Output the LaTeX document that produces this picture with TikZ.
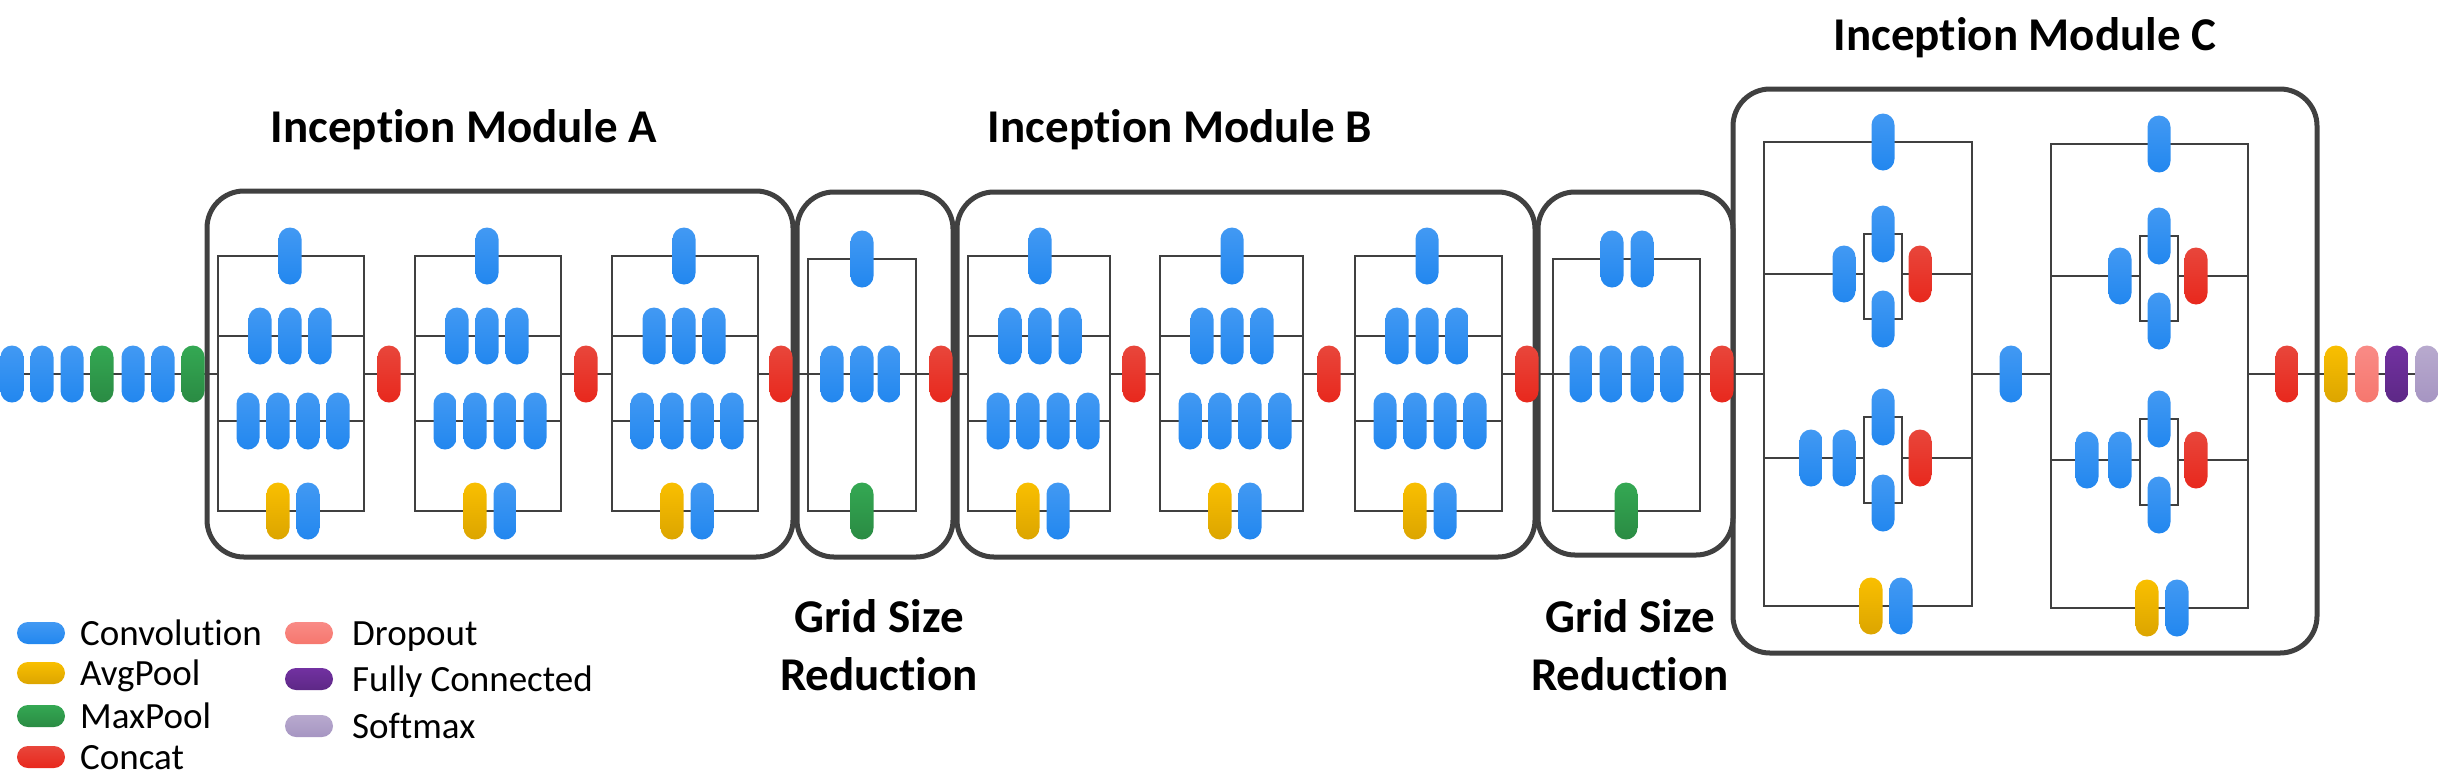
\documentclass[tikz,border=0pt]{standalone}
\usepackage{fontspec}
\setmainfont{Carlito}[Ligatures=NoCommon]
\pgfdeclarelayer{bg}
\pgfsetlayers{bg,main}
\definecolor{lineC}{HTML}{404040}
\definecolor{convT}{HTML}{4299F3}
\definecolor{convB}{HTML}{2287EF}
\definecolor{avgT}{HTML}{F9BF00}
\definecolor{avgB}{HTML}{DCA500}
\definecolor{maxT}{HTML}{34A853}
\definecolor{maxB}{HTML}{2A8B43}
\definecolor{catT}{HTML}{E8463B}
\definecolor{catB}{HTML}{E8281D}
\definecolor{dropT}{HTML}{F98B86}
\definecolor{dropB}{HTML}{F6776E}
\definecolor{fcT}{HTML}{7231A1}
\definecolor{fcB}{HTML}{5D2886}
\definecolor{smT}{HTML}{B8AACE}
\definecolor{smB}{HTML}{A695C2}
\tikzset{
  ln/.style={draw=lineC, line width=2.8pt},
  mbox/.style={draw=lineC, line width=5pt, rounded corners=37pt},
  pill/.style={rectangle, rounded corners=11.5pt, minimum width=23pt, minimum height=57pt, inner sep=0pt, outer sep=0pt},
  hpill/.style={rectangle, rounded corners=11pt, minimum width=48pt, minimum height=22pt, inner sep=0pt, outer sep=0pt},
  conv/.style={top color=convT, bottom color=convB},
  avgp/.style={top color=avgT, bottom color=avgB},
  maxp/.style={top color=maxT, bottom color=maxB},
  catp/.style={top color=catT, bottom color=catB},
  dropp/.style={top color=dropT, bottom color=dropB},
  fcl/.style={top color=fcT, bottom color=fcB},
  smax/.style={top color=smT, bottom color=smB},
  title/.style={font=\fontsize{47}{56}\selectfont\bfseries, anchor=base, inner sep=0pt},
  legtxt/.style={font=\fontsize{37}{44}\selectfont, anchor=base west, inner sep=0pt},
}
% Inception A/B block: #1 name, #2 left x, #3 width, #4 concat x
\newcommand\IncAB[4]{%
  \coordinate (#1NW) at (#2,256);
  \coordinate (#1SE) at ({#2+#3},511);
  \coordinate (#1W) at (#2,374);
  \coordinate (#1E) at ({#2+#3},374);
  \coordinate (#1bw) at (#2,336);
  \coordinate (#1be) at ({#2+#3},336);
  \coordinate (#1cw) at (#2,421);
  \coordinate (#1ce) at ({#2+#3},421);
  \begin{pgfonlayer}{bg}
    \draw[ln] (#1NW) rectangle (#1SE);
    \draw[ln] (#1bw) -- (#1be);
    \draw[ln] (#1cw) -- (#1ce);
  \end{pgfonlayer}
  \node[pill,conv] (#1a) at ({#2+72},256) {};
  \node[pill,conv] (#1b1) at ({#2+42},336) {};
  \node[pill,conv] (#1b2) at ({#2+72},336) {};
  \node[pill,conv] (#1b3) at ({#2+102},336) {};
  \node[pill,conv] (#1c1) at ({#2+30},421) {};
  \node[pill,conv] (#1c2) at ({#2+60},421) {};
  \node[pill,conv] (#1c3) at ({#2+90},421) {};
  \node[pill,conv] (#1c4) at ({#2+120},421) {};
  \node[pill,avgp] (#1d1) at ({#2+60},511) {};
  \node[pill,conv] (#1d2) at ({#2+90},511) {};
  \node[pill,catp] (#1cat) at (#4,374) {};
}
% Inception C block: #1 name, #2 left, #3 right, #4 dy, #5 mini x, #6 conv x, #7 first conv x, #8 avgpool x
\newcommand\IncC[8]{%
  \coordinate (#1NW) at (#2,{142+#4});
  \coordinate (#1SE) at (#3,{606+#4});
  \coordinate (#1W) at (#2,374);
  \coordinate (#1E) at (#3,374);
  \coordinate (#1bw) at (#2,{274+#4});
  \coordinate (#1be) at (#3,{274+#4});
  \coordinate (#1cw) at (#2,{458+#4});
  \coordinate (#1ce) at (#3,{458+#4});
  \coordinate (#1bmNW) at ({#5-19},{234+#4});
  \coordinate (#1bmSE) at ({#5+19},{319+#4});
  \coordinate (#1bmW) at ({#5-19},{274+#4});
  \coordinate (#1bmE) at ({#5+19},{274+#4});
  \coordinate (#1cmNW) at ({#5-19},{417+#4});
  \coordinate (#1cmSE) at ({#5+19},{503+#4});
  \coordinate (#1cmW) at ({#5-19},{458+#4});
  \coordinate (#1cmE) at ({#5+19},{458+#4});
  \begin{pgfonlayer}{bg}
    \draw[ln] (#1NW) rectangle (#1SE);
    \draw[ln] (#1bw) -- (#1bmW);
    \draw[ln] (#1bmE) -- (#1be);
    \draw[ln] (#1bmNW) rectangle (#1bmSE);
    \draw[ln] (#1cw) -- (#1cmW);
    \draw[ln] (#1cmE) -- (#1ce);
    \draw[ln] (#1cmNW) rectangle (#1cmSE);
  \end{pgfonlayer}
  \node[pill,conv] (#1a) at (#5,{142+#4}) {};
  \node[pill,conv] (#1b1) at (#6,{274+#4}) {};
  \node[pill,conv] (#1bu) at (#5,{234+#4}) {};
  \node[pill,conv] (#1bd) at (#5,{319+#4}) {};
  \node[pill,catp] (#1bcat) at ({#5+37},{274+#4}) {};
  \node[pill,conv] (#1c1) at (#7,{458+#4}) {};
  \node[pill,conv] (#1c2) at (#6,{458+#4}) {};
  \node[pill,conv] (#1cu) at (#5,{417+#4}) {};
  \node[pill,conv] (#1cd) at (#5,{503+#4}) {};
  \node[pill,catp] (#1ccat) at ({#5+37},{458+#4}) {};
  \node[pill,avgp] (#1d1) at (#8,{606+#4}) {};
  \node[pill,conv] (#1d2) at ({#8+30},{606+#4}) {};
}
\begin{document}
\begin{tikzpicture}[x=1pt,y=-1pt]
\useasboundingbox (0,0) rectangle (2438,777);
% stem
\node[pill,conv] (s1) at (12,374) {};
\node[pill,conv] (s2) at (42,374) {};
\node[pill,conv] (s3) at (72,374) {};
\node[pill,maxp] (s4) at (102,374) {};
\node[pill,conv] (s5) at (133,374) {};
\node[pill,conv] (s6) at (163,374) {};
\node[pill,maxp] (s7) at (193,374) {};
% Inception A
\IncAB{A1}{218}{146}{389}
\IncAB{A2}{415}{146}{586}
\IncAB{A3}{612}{146}{781}
% Grid reduction 1
\coordinate (G1NW) at (808,259);
\coordinate (G1SE) at (916,511);
\coordinate (G1W) at (808,374);
\coordinate (G1E) at (916,374);
\begin{pgfonlayer}{bg}
  \draw[ln] (G1NW) rectangle (G1SE);
\end{pgfonlayer}
\node[pill,conv] (G1t) at (862,259) {};
\node[pill,conv] (G1m1) at (832,374) {};
\node[pill,conv] (G1m2) at (862,374) {};
\node[pill,conv] (G1m3) at (889,374) {};
\node[pill,maxp] (G1p) at (862,511) {};
\node[pill,catp] (G1cat) at (941,374) {};
% Inception B
\IncAB{B1}{968}{142}{1134}
\IncAB{B2}{1160}{143}{1329}
\IncAB{B3}{1355}{147}{1527}
% Grid reduction 2
\coordinate (G2NW) at (1553,259);
\coordinate (G2SE) at (1700,511);
\coordinate (G2W) at (1553,374);
\coordinate (G2E) at (1700,374);
\begin{pgfonlayer}{bg}
  \draw[ln] (G2NW) rectangle (G2SE);
\end{pgfonlayer}
\node[pill,conv] (G2t1) at (1612,259) {};
\node[pill,conv] (G2t2) at (1642,259) {};
\node[pill,conv] (G2m1) at (1581,374) {};
\node[pill,conv] (G2m2) at (1611,374) {};
\node[pill,conv] (G2m3) at (1642,374) {};
\node[pill,conv] (G2m4) at (1672,374) {};
\node[pill,maxp] (G2p) at (1626,511) {};
\node[pill,catp] (G2cat) at (1722,374) {};
% Inception C
\IncC{C1}{1764}{1972}{0}{1883}{1844}{1811}{1871}
\node[pill,conv] (Cmid) at (2011,374) {};
\IncC{C2}{2051}{2248}{2}{2159}{2120}{2087}{2147}
\node[pill,catp] (C2cat) at (2287,374) {};
% output
\node[pill,avgp] (o1) at (2336,374) {};
\node[pill,dropp] (o2) at (2367,374) {};
\node[pill,fcl] (o3) at (2397,374) {};
\node[pill,smax] (o4) at (2427,374) {};
% main connectors and module boxes
\begin{pgfonlayer}{bg}
  \draw[ln] (s1.center) -- (A1W);
  \draw[ln] (A1E) -- (A2W);
  \draw[ln] (A2E) -- (A3W);
  \draw[ln] (A3E) -- (G1W) -- (G1E) -- (B1W);
  \draw[ln] (B1E) -- (B2W);
  \draw[ln] (B2E) -- (B3W);
  \draw[ln] (B3E) -- (G2W) -- (G2E) -- (C1W);
  \draw[ln] (C1E) -- (C2W);
  \draw[ln] (C2E) -- (o4.center);
  \draw[mbox] (207,191) rectangle (793,557);
  \draw[mbox] (797,192) rectangle (953,557);
  \draw[mbox] (957,192) rectangle (1535,557);
  \draw[mbox] (1538,192) rectangle (1733,555);
  \draw[mbox] (1733,89) rectangle (2317,653);
\end{pgfonlayer}
% titles
\node[title] (tA) at (464,142) {Inception Module A};
\node[title] (tB) at (1180,142) {Inception Module B};
\node[title] (tC) at (2025,50) {Inception Module C};
\node[title] (g1a) at (879,632) {Grid Size};
\node[title] (g1b) at (879,690) {Reduction};
\node[title] (g2a) at (1630,632) {Grid Size};
\node[title] (g2b) at (1630,690) {Reduction};
% legend
\node[hpill,conv] (l1) at (41,633) {};
\node[hpill,avgp] (l2) at (41,673) {};
\node[hpill,maxp] (l3) at (41,716) {};
\node[hpill,catp] (l4) at (41,757) {};
\node[hpill,dropp] (l5) at (309,633) {};
\node[hpill,fcl] (l6) at (309,679) {};
\node[hpill,smax] (l7) at (309,726) {};
\node[legtxt] (t1) at (80,645) {Convolution};
\node[legtxt] (t2) at (80,685) {AvgPool};
\node[legtxt] (t3) at (80,728) {MaxPool};
\node[legtxt] (t4) at (80,769) {Concat};
\node[legtxt] (t5) at (352,645) {Dropout};
\node[legtxt] (t6) at (352,691) {Fully Connected};
\node[legtxt] (t7) at (352,738) {Softmax};
\end{tikzpicture}
\end{document}
